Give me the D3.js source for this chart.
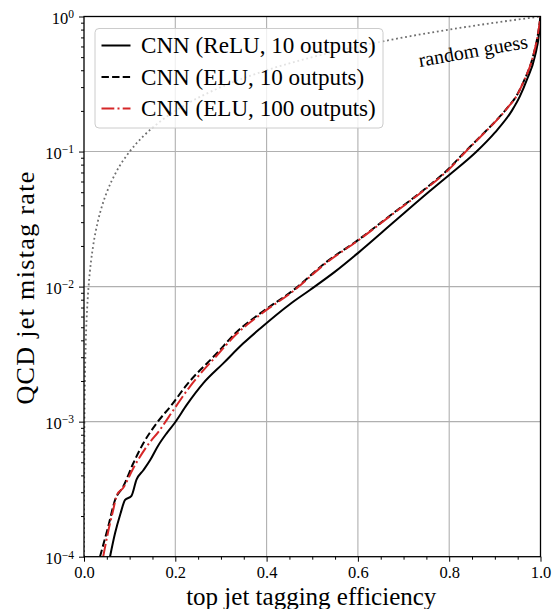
<!DOCTYPE html>
<html>
<head>
<meta charset="utf-8">
<script src="https://cdn.jsdelivr.net/npm/d3@7"></script>
<style>
  body { margin: 0; background: #fff; }
  svg { display: block; }
  text { font-family: "Liberation Serif", "DejaVu Serif", serif; fill: #000; }
</style>
</head>
<body>
<script>
//width and height
var w = 553;
var h = 609;
var margin = {top: 16.5, right: 12.5, bottom: 52.3, left: 84};

//ReLU, 10 outputs (solid black)
var reluEff = [0.057, 0.068, 0.080, 0.090, 0.104, 0.115, 0.130, 0.145, 0.162, 0.181,
               0.199, 0.225, 0.261, 0.305, 0.349, 0.386, 0.451, 0.495, 0.550, 0.600,
               0.678, 0.755, 0.800, 0.860, 0.900, 0.937, 0.955, 0.970, 0.988, 0.997, 1.0];
var reluMistag = [1.0e-4, 1.49e-4, 2.09e-4, 2.63e-4, 2.82e-4, 3.72e-4, 4.37e-4, 5.20e-4, 6.61e-4, 8.20e-4,
                  9.82e-4, 1.33e-3, 1.92e-3, 2.70e-3, 3.80e-3, 4.90e-3, 7.41e-3, 9.44e-3, 1.29e-2, 1.77e-2,
                  2.99e-2, 5.01e-2, 6.70e-2, 0.100, 0.138, 0.200, 0.257, 0.339, 0.511, 0.759, 1.0];

//ELU, 10 outputs (dashed black)
var eluEff = [0.035, 0.053, 0.068, 0.086, 0.108, 0.130, 0.159, 0.192, 0.225, 0.291,
              0.334, 0.386, 0.459, 0.532, 0.600, 0.678, 0.755, 0.800, 0.835, 0.867,
              0.929, 0.947, 0.962, 0.984, 0.995, 1.0];
var eluMistag = [1.0e-4, 1.67e-4, 2.63e-4, 3.31e-4, 4.92e-4, 6.92e-4, 9.72e-4, 1.33e-3, 1.87e-3, 3.21e-3,
                 4.60e-3, 6.34e-3, 9.44e-3, 1.53e-2, 2.21e-2, 3.51e-2, 5.56e-2, 7.52e-2, 0.100, 0.128,
                 0.214, 0.257, 0.324, 0.513, 0.759, 1.0];

//ELU, 100 outputs (red dash-dot)
var elu100Eff = [0.042, 0.052, 0.064, 0.072, 0.086, 0.108, 0.137, 0.166, 0.196, 0.232,
                 0.291, 0.334, 0.386, 0.459, 0.532, 0.600, 0.678, 0.755, 0.800, 0.835,
                 0.867, 0.929, 0.947, 0.962, 0.984, 0.995, 1.0];
var elu100Mistag = [1.0e-4, 1.48e-4, 2.22e-4, 2.86e-4, 3.24e-4, 4.52e-4, 6.52e-4, 8.67e-4, 1.22e-3, 1.82e-3,
                    3.09e-3, 4.45e-3, 6.20e-3, 9.30e-3, 1.51e-2, 2.19e-2, 3.48e-2, 5.50e-2, 7.41e-2, 9.89e-2,
                    0.127, 0.213, 0.256, 0.324, 0.513, 0.759, 1.0];

//random guess diagonal
var randomEff = [0.0001, 0.0002, 0.0005, 0.001, 0.002, 0.004, 0.007, 0.01, 0.015, 0.02, 0.03, 0.04, 0.05,
                 0.07, 0.1, 0.13, 0.17, 0.22, 0.3, 0.4, 0.5, 0.6, 0.7, 0.8, 0.9, 1.0];
var randomMistag = [0.0001, 0.0002, 0.0005, 0.001, 0.002, 0.004, 0.007, 0.01, 0.015, 0.02, 0.03, 0.04, 0.05,
                    0.07, 0.1, 0.13, 0.17, 0.22, 0.3, 0.4, 0.5, 0.6, 0.7, 0.8, 0.9, 1.0];

//ticks and labels
var xTicks = [0, 0.2, 0.4, 0.6, 0.8, 1.0];
var xMinorTicks = [0.05, 0.1, 0.15, 0.25, 0.3, 0.35, 0.45, 0.5, 0.55, 0.65, 0.7, 0.75, 0.85, 0.9, 0.95];
var yTicks = [1e-4, 1e-3, 1e-2, 1e-1, 1];
var yExponents = ["\u22124", "\u22123", "\u22122", "\u22121", "0"];
var legendLabels = ["CNN (ReLU, 10 outputs)", "CNN (ELU, 10 outputs)", "CNN (ELU, 100 outputs)"];

var x = d3.scaleLinear().domain([0, 1]).range([margin.left, w - margin.right]);
var y = d3.scaleLog().domain([1e-4, 1]).range([h - margin.bottom, margin.top]);

var svg = d3.select("body").append("svg")
            .attr("width", w)
            .attr("height", h);

svg.append("defs").append("clipPath").attr("id", "plot")
    .append("rect")
    .attr("x", margin.left).attr("y", margin.top)
    .attr("width", x(1) - x(0)).attr("height", y(1e-4) - y(1));

//grid
svg.append("g").selectAll("line").data(xTicks.slice(1, -1)).enter().append("line")
    .attr("x1", function(d) { return x(d); }).attr("x2", function(d) { return x(d); })
    .attr("y1", y(1e-4)).attr("y2", y(1))
    .attr("stroke", "#b0b0b0").attr("stroke-width", 1.1);
svg.append("g").selectAll("line").data(yTicks.slice(1, -1)).enter().append("line")
    .attr("y1", function(d) { return y(d); }).attr("y2", function(d) { return y(d); })
    .attr("x1", x(0)).attr("x2", x(1))
    .attr("stroke", "#b0b0b0").attr("stroke-width", 1.1);

//curves
var line = d3.line()
    .curve(d3.curveMonotoneX)
    .x(function(d) { return x(d[0]); })
    .y(function(d) { return y(d[1]); });

var series = [
    {eff: reluEff, mis: reluMistag, color: "#000", dash: null},
    {eff: eluEff, mis: eluMistag, color: "#000", dash: "7.4,3.2"},
    {eff: elu100Eff, mis: elu100Mistag, color: "#d62728", dash: "12.8,3.2,2,3.2"}
];

var plot = svg.append("g").attr("clip-path", "url(#plot)");

plot.append("path")
    .attr("d", line(d3.zip(randomEff, randomMistag)))
    .attr("fill", "none")
    .attr("stroke", "#6e6e6e")
    .attr("stroke-width", 1.8)
    .attr("stroke-dasharray", "1.8,2.8");

series.forEach(function(s) {
    plot.append("path")
        .attr("d", line(d3.zip(s.eff, s.mis)))
        .attr("fill", "none")
        .attr("stroke", s.color)
        .attr("stroke-width", 2)
        .attr("stroke-dasharray", s.dash);
});

//random guess label
svg.append("text")
    .attr("transform", "translate(" + x(0.852) + "," + y(0.56) + ") rotate(-10)")
    .attr("text-anchor", "middle")
    .attr("dy", "0.35em")
    .style("font-size", "20px")
    .text("random guess");

//x axis
var xAxis = svg.append("g")
    .attr("transform", "translate(0," + y(1e-4) + ")")
    .call(d3.axisBottom(x).tickValues(xTicks).tickSize(5).tickPadding(4.5)
          .tickFormat(d3.format(".1f")));
svg.append("g")
    .attr("transform", "translate(0," + y(1e-4) + ")")
    .call(d3.axisBottom(x).tickValues(xMinorTicks).tickSize(3).tickFormat(""))
    .call(function(g) { g.select(".domain").remove(); });
xAxis.selectAll("text").style("font-size", "16.5px").attr("font-family", null);

//y axis
var yMinor = [];
yTicks.slice(0, -1).forEach(function(t) {
    for (var k = 2; k < 10; k++) yMinor.push(t * k);
});
var yAxis = svg.append("g")
    .attr("transform", "translate(" + x(0) + ",0)")
    .call(d3.axisLeft(y).tickValues(yTicks).tickSize(5).tickFormat(""));
svg.append("g")
    .attr("transform", "translate(" + x(0) + ",0)")
    .call(d3.axisLeft(y).tickValues(yMinor).tickSize(3).tickFormat(""))
    .call(function(g) { g.select(".domain").remove(); });

yAxis.selectAll(".tick").each(function(d, i) {
    var t = d3.select(this).select("text")
        .attr("x", -10).attr("dy", null).attr("y", 6.8)
        .attr("text-anchor", "end").attr("font-family", null)
        .style("font-size", "16.5px");
    t.append("tspan").text("10");
    t.append("tspan").attr("dy", -5.5).style("font-size", "11.5px").text(yExponents[i]);
});

svg.selectAll(".domain").attr("stroke", "none");
svg.selectAll(".tick line").attr("stroke", "#000").attr("stroke-width", 1);

//frame
svg.append("rect")
    .attr("x", x(0)).attr("y", y(1))
    .attr("width", x(1) - x(0)).attr("height", y(1e-4) - y(1))
    .attr("fill", "none").attr("stroke", "#000").attr("stroke-width", 1.3);

//axis labels
svg.append("text")
    .attr("x", (x(0) + x(1)) / 2 - 1).attr("y", 605)
    .attr("text-anchor", "middle")
    .style("font-size", "25px")
    .text("top jet tagging efficiency");
svg.append("text")
    .attr("transform", "translate(34," + (y(1e-2) + 1.5) + ") rotate(-90)")
    .attr("text-anchor", "middle")
    .attr("textLength", 233)
    .attr("lengthAdjust", "spacing")
    .style("font-size", "26px")
    .text("QCD jet mistag rate");

//legend
var legend = svg.append("g");
legend.append("rect")
    .attr("x", 95).attr("y", 28.5).attr("width", 288).attr("height", 99.5)
    .attr("rx", 4)
    .attr("fill", "#fff").attr("fill-opacity", 0.8)
    .attr("stroke", "#cccccc").attr("stroke-width", 1);
var rows = legend.selectAll("g.row").data(series).enter().append("g")
    .attr("transform", function(d, i) { return "translate(0," + (45.5 + i * 31.5) + ")"; });
rows.append("line")
    .attr("x1", 101.5).attr("x2", 130.5)
    .attr("stroke", function(d) { return d.color; })
    .attr("stroke-width", 2)
    .attr("stroke-dasharray", function(d) { return d.dash; });
rows.append("text")
    .attr("x", 141).attr("dy", "0.34em")
    .style("font-size", "23.1px")
    .text(function(d, i) { return legendLabels[i]; });
</script>
</body>
</html>
